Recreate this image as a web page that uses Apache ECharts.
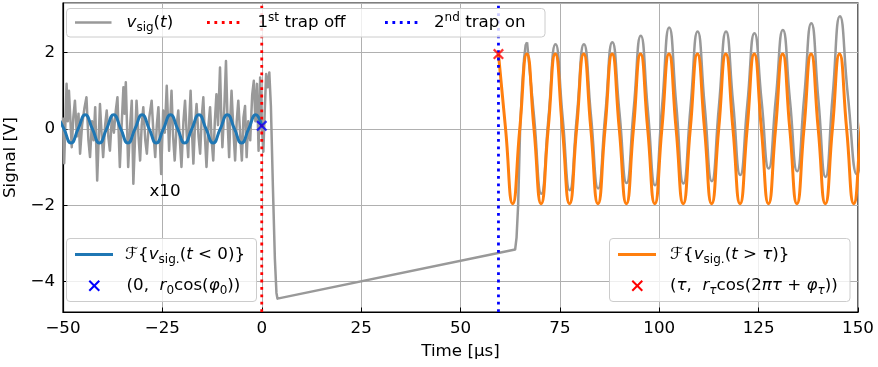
<!DOCTYPE html>
<html>
<head>
<meta charset="utf-8">
<script src="https://cdn.jsdelivr.net/npm/echarts@6/dist/echarts.min.js"></script>
<style>
  html, body { margin: 0; padding: 0; background: #ffffff; }
  #chart { width: 878px; height: 367px; }
</style>
</head>
<body>
<div id="chart"></div>
<script>
// ---- axes ----
const xTicks = [-50, -25, 0, 25, 50, 75, 100, 125, 150];
const yTicks = [-4, -2, 0, 2];
const yRange = [-4.8, 3.3];

// ---- measured signal v_sig(t): noisy part (shown x10), drop, ramp and rise ----
const rawT = [
  -50.0, -49.7, -49.1, -48.8, -48.5, -47.8, -47.4, -47.0, -46.5, -46.1,
  -45.7, -45.2, -44.6, -44.1, -43.6, -43.2, -42.7, -42.3, -41.9, -41.4,
  -41.0, -40.7, -40.3, -39.9, -39.4, -39.0, -38.6, -38.2, -37.7, -37.2,
  -36.7, -36.3, -35.7, -35.2, -34.8, -34.5, -34.2, -33.6, -33.1, -32.7,
  -32.3, -31.9, -31.5, -31.0, -30.6, -30.2, -29.8, -29.3, -28.9, -28.3,
  -27.7, -27.2, -26.8, -26.4, -26.0, -25.6, -25.3, -24.8, -24.4, -23.9,
  -23.3, -23.0, -22.7, -22.3, -21.9, -21.4, -21.0, -20.6, -20.2, -19.7,
  -19.3, -18.9, -18.5, -18.2, -17.9, -17.5, -17.2, -16.8, -16.4, -15.9,
  -15.5, -15.1, -14.7, -14.3, -13.9, -13.4, -13.0, -12.6, -12.2, -11.8,
  -11.4, -11.0, -10.5, -10.2, -9.9, -9.4, -9.0, -8.6, -8.2, -7.9,
  -7.6, -7.1, -6.7, -6.3, -5.9, -5.4, -5.0, -4.6, -4.2, -3.8,
  -3.4, -2.9, -2.4, -2.0, -1.6, -1.2, -0.8, -0.4, 0.0, 0.4,
  0.8, 1.1, 1.5, 1.9, 2.3, 2.8, 3.3, 3.7, 3.95,
  63.75, 64.1, 64.5, 65.0, 65.5, 66.0, 66.4, 66.75
];
const rawV = [
  0.30, -0.90, 1.18, 0.20, 1.00, -0.48, 0.30, 0.74, -0.20, 0.40,
  -0.65, 0.10, 0.55, 0.83, -0.30, -0.74, 0.20, -0.30, 0.57, -1.35,
  -0.20, 0.65, -0.10, -0.74, 0.10, 0.48, -0.20, -0.57, 0.30, -0.10,
  0.50, 0.83, -1.00, 0.20, 1.09, 0.40, 1.22, -1.00, 0.10, 0.74,
  -1.44, -0.30, 0.74, -0.20, -0.83, 0.10, 0.57, -0.30, -0.65, 0.30,
  0.74, -0.20, -0.74, 0.10, 0.57, -0.40, -1.18, 0.48, -0.10, 1.13,
  -0.57, 0.30, 1.00, -0.20, -0.83, 0.10, 0.48, -0.30, -1.00, 0.20,
  0.74, -0.10, -0.74, 0.30, 1.00, -0.20, -0.91, 0.10, 0.65, -0.20,
  -0.65, 0.30, 0.83, -0.20, -1.00, 0.10, 0.57, -0.30, -0.83, 0.20,
  0.91, 0.10, 1.61, 0.40, -0.48, 0.60, 1.78, 0.20, -0.74, 0.30,
  1.00, -0.10, -0.83, 0.20, 0.74, -0.20, -0.83, 0.30, 0.60, -0.74,
  0.20, -0.30, 0.90, 1.26, 0.20, 1.18, -0.57, 1.35, 0.10, -0.60,
  0.60, 1.44, 1.09, 1.48, 0.60, -1.50, -3.40, -4.30, -4.45,
  -3.16, -2.85, -2.00, 0.00, 1.10, 1.85, 2.20, 2.27
];

// ---- measured signal after the second trap is on (peaks, mid-levels, troughs) ----
const oscT = [
  66.75, 68.54, 70.33, 72.11, 73.90, 75.69, 77.48, 79.26, 81.05, 82.84,
  84.63, 86.41, 88.20, 89.99, 91.78, 93.56, 95.35, 97.14, 98.93, 100.71,
  102.50, 104.29, 106.08, 107.86, 109.65, 111.44, 113.23, 115.01, 116.80, 118.59,
  120.38, 122.16, 123.95, 125.74, 127.53, 129.31, 131.10, 132.89, 134.68, 136.46,
  138.25, 140.04, 141.83, 143.61, 145.45, 147.45, 149.70, 151.50, 153.30
];
const oscV = [
  2.27, 0.28, -1.70, 0.26, 2.22, 0.31, -1.61, 0.31, 2.22, 0.33,
  -1.56, 0.36, 2.27, 0.43, -1.42, 0.51, 2.44, 0.48, -1.48, 0.59,
  2.66, 0.62, -1.43, 0.56, 2.55, 0.59, -1.37, 0.59, 2.55, 0.67,
  -1.21, 0.65, 2.51, 0.74, -1.04, 0.78, 2.59, 0.74, -1.11, 0.83,
  2.77, 0.76, -1.26, 0.85, 2.95, 0.88, -1.19, 0.85, 2.90
];

// ---- fit F{v_sig.(t<0)} ----
const fitPreT = [
  -51.55, -49.76, -47.98, -46.19, -44.40, -42.61, -40.83, -39.04, -37.25, -35.46,
  -33.68, -31.89, -30.10, -28.31, -26.53, -24.74, -22.95, -21.16, -19.38, -17.59,
  -15.80, -14.01, -12.23, -10.44, -8.65, -6.86, -5.08, -3.29, -1.50, 0.00
];
const fitPreV = [
  0.37, 0, -0.37, 0, 0.37, 0, -0.37, 0, 0.37, 0,
  -0.37, 0, 0.37, 0, -0.37, 0, 0.37, 0, -0.37, 0,
  0.37, 0, -0.37, 0, 0.37, 0, -0.37, 0, 0.37, 0.08
];

// ---- fit F{v_sig.(t>tau)} ----
const fitPostT = [
  59.55, 61.34, 63.13, 64.91, 66.70, 68.49, 70.28, 72.06, 73.85, 75.64,
  77.43, 79.21, 81.00, 82.79, 84.58, 86.36, 88.15, 89.94, 91.73, 93.51,
  95.30, 97.09, 98.88, 100.66, 102.45, 104.24, 106.03, 107.81, 109.60, 111.39,
  113.18, 114.96, 116.75, 118.54, 120.33, 122.11, 123.90, 125.69, 127.48, 129.26,
  131.05, 132.84, 134.63, 136.41, 138.20, 139.99, 141.78, 143.56, 145.35, 147.14,
  148.93, 150.71, 152.50
];
const fitPostV = [
  1.96, 0, -1.96, 0, 1.96, 0, -1.96, 0, 1.96, 0,
  -1.96, 0, 1.96, 0, -1.96, 0, 1.96, 0, -1.96, 0,
  1.96, 0, -1.96, 0, 1.96, 0, -1.96, 0, 1.96, 0,
  -1.96, 0, 1.96, 0, -1.96, 0, 1.96, 0, -1.96, 0,
  1.96, 0, -1.96, 0, 1.96, 0, -1.96, 0, 1.96, 0,
  -1.96, 0, 1.96
];

// ---- trap events and phase points ----
const trapOffT = 0;
const trapOnT = 59.55;
const pointPre = [0, 0.08];
const pointPost = [59.55, 1.96];

const zip = (a, b) => a.map((v, i) => [v, b[i]]);
const minus = v => String(v).replace('-', '\u2212');

const FONT = 'DejaVu Sans';
const FS = 16.7;
const GRAY = '#999999';
const BLUE = '#1f77b4';
const ORANGE = '#ff7f0e';
const W_RAW = 2.5;
const W_FIT = 3.0;

// X-shaped marker outline
const XMARK = 'path://M0,1.4L1.4,0L5,3.6L8.6,0L10,1.4L6.4,5L10,8.6L8.6,10L5,6.4L1.4,10L0,8.6L3.6,5Z';

const chart = echarts.init(document.getElementById('chart'), null, { renderer: 'canvas' });

const rich = {
  i:   { fontFamily: FONT, fontSize: FS, fontStyle: 'italic', lineHeight: 22 },
  c:   { fontFamily: FONT, fontSize: FS, lineHeight: 22 },
  sub: { fontFamily: FONT, fontSize: 12, lineHeight: 12, verticalAlign: 'bottom' },
  subi:{ fontFamily: FONT, fontSize: 12, lineHeight: 12, verticalAlign: 'bottom', fontStyle: 'italic' },
  sup: { fontFamily: FONT, fontSize: 12, lineHeight: 12, verticalAlign: 'top' }
};

function txt(x, y, text) {
  return {
    type: 'text', x: x, y: y, z: 110,
    style: {
      text: text, fill: '#000', fontFamily: FONT, fontSize: FS, lineHeight: 22,
      align: 'left', verticalAlign: 'middle', rich: rich
    }
  };
}
function box(x, y, w, h) {
  return {
    type: 'rect', z: 100,
    shape: { x: x, y: y, width: w, height: h, r: 3.5 },
    style: { fill: 'rgba(255,255,255,0.8)', stroke: '#cccccc', lineWidth: 1 }
  };
}
function seg(x1, x2, y, color, width, dash) {
  return {
    type: 'line', z: 105,
    shape: { x1: x1, y1: y, x2: x2, y2: y },
    style: { stroke: color, lineWidth: width, lineDash: dash || null, lineCap: 'butt' }
  };
}
function cross(cx, cy, color) {
  return {
    type: 'group', z: 105,
    children: [
      { type: 'line', z: 105, shape: { x1: cx - 5, y1: cy - 5, x2: cx + 5, y2: cy + 5 }, style: { stroke: color, lineWidth: 2 } },
      { type: 'line', z: 105, shape: { x1: cx - 5, y1: cy + 5, x2: cx + 5, y2: cy - 5 }, style: { stroke: color, lineWidth: 2 } }
    ]
  };
}

const option = {
  animation: false,
  backgroundColor: '#ffffff',
  grid: {
    left: 63, right: 20, top: 3, bottom: 55,
    outerBoundsMode: 'none', containLabel: false,
    show: true, borderColor: '#000000', borderWidth: 1.2, backgroundColor: 'transparent'
  },
  xAxis: {
    type: 'value',
    min: xTicks[0], max: xTicks[xTicks.length - 1], interval: xTicks[1] - xTicks[0],
    name: 'Time [\u03bcs]', nameLocation: 'middle', nameGap: 31,
    nameTextStyle: { fontFamily: FONT, fontSize: FS, color: '#000' },
    axisLine: { show: true, onZero: false, lineStyle: { color: '#000', width: 1.2 } },
    axisTick: { show: true, inside: true, length: 4.5, lineStyle: { color: '#000', width: 1 } },
    axisLabel: { fontFamily: FONT, fontSize: FS, color: '#000', margin: 8, formatter: v => minus(v) },
    splitLine: { show: true, lineStyle: { color: '#b0b0b0', width: 1 } }
  },
  yAxis: {
    type: 'value',
    min: yRange[0], max: yRange[1],
    name: 'Signal [V]', nameLocation: 'middle', nameGap: 38,
    nameTextStyle: { fontFamily: FONT, fontSize: FS, color: '#000' },
    axisLine: { show: true, onZero: false, lineStyle: { color: '#000', width: 1.2 } },
    axisTick: { show: true, inside: true, length: 4.5, lineStyle: { color: '#000', width: 1 } },
    axisLabel: {
      fontFamily: FONT, fontSize: FS, color: '#000', margin: 8,
      showMinLabel: false, showMaxLabel: false,
      formatter: v => (yTicks.indexOf(v) >= 0 ? minus(v) : '')
    },
    splitLine: { show: true, lineStyle: { color: '#b0b0b0', width: 1 } }
  },
  series: [
    {
      name: 'raw', type: 'line', data: zip(rawT, rawV), z: 2,
      showSymbol: false, symbol: 'none', smooth: false, silent: true,
      lineStyle: { color: GRAY, width: W_RAW, join: 'round' }
    },
    {
      name: 'osc', type: 'line', data: zip(oscT, oscV), z: 2,
      showSymbol: false, symbol: 'none', smooth: 0.55, silent: true,
      lineStyle: { color: GRAY, width: W_RAW }
    },
    {
      name: 'fitPre', type: 'line', data: zip(fitPreT, fitPreV), z: 3,
      showSymbol: false, symbol: 'none', smooth: 0.55, silent: true,
      lineStyle: { color: BLUE, width: W_FIT }
    },
    {
      name: 'fitPost', type: 'line', data: zip(fitPostT, fitPostV), z: 3,
      showSymbol: false, symbol: 'none', smooth: 0.55, silent: true,
      lineStyle: { color: ORANGE, width: W_FIT }
    },
    {
      name: 'trapOff', type: 'line', data: [[trapOffT, yRange[0]], [trapOffT, yRange[1]]], z: 4,
      showSymbol: false, symbol: 'none', silent: true,
      lineStyle: { color: '#ff0000', width: 2.8, type: [2.8, 4.6], cap: 'butt' }
    },
    {
      name: 'trapOn', type: 'line', data: [[trapOnT, yRange[0]], [trapOnT, yRange[1]]], z: 4,
      showSymbol: false, symbol: 'none', silent: true,
      lineStyle: { color: '#0000ff', width: 2.8, type: [2.8, 4.6], cap: 'butt' }
    },
    {
      name: 'pointPre', type: 'scatter', data: [pointPre], z: 5, silent: true,
      symbol: XMARK, symbolSize: 11, itemStyle: { color: '#0000ff' }
    },
    {
      name: 'pointPost', type: 'scatter', data: [pointPost], z: 5, silent: true,
      symbol: XMARK, symbolSize: 11, itemStyle: { color: '#ff0000' }
    }
  ],
  graphic: [
    // annotation for the scaled pre-trigger signal
    { type: 'text', x: 165, y: 192, z: 50,
      style: { text: 'x10', fontFamily: FONT, fontSize: FS, fill: '#000', align: 'center', verticalAlign: 'middle' } },

    // upper legend
    box(66.5, 8.5, 478.5, 28.5),
    seg(75, 111.5, 22.5, GRAY, W_RAW),
    txt(126.5, 22.5, '{i|v}{sub|sig}({i|t})'),
    seg(207, 242, 22.5, '#ff0000', 2.8, [2.8, 4.6]),
    txt(257.5, 22.5, '1{sup|st} trap off'),
    seg(385, 418, 22.5, '#0000ff', 2.8, [2.8, 4.6]),
    txt(434, 22.5, '2{sup|nd} trap on'),

    // lower-left legend
    box(66.5, 238.5, 190, 63),
    seg(75, 113, 254.5, BLUE, W_FIT),
    txt(125, 254.5, '{c|\u2131}{c|{}{i|v}{sub|sig.}({i|t} < 0)}'),
    cross(94.3, 285.7, '#0000ff'),
    txt(126.5, 285.7, '(0,  {i|r}{sub|0}cos({i|\u03c6}{sub|0}))'),

    // lower-right legend
    box(609.5, 238.5, 240.5, 63),
    seg(618, 656, 254.5, ORANGE, W_FIT),
    txt(670, 254.5, '{c|\u2131}{c|{}{i|v}{sub|sig.}({i|t} > {i|\u03c4})}'),
    cross(637.3, 285.7, '#ff0000'),
    txt(670, 285.7, '({i|\u03c4},  {i|r}{subi|\u03c4}cos(2{i|\u03c0\u03c4} + {i|\u03c6}{subi|\u03c4}))')
  ]
};

chart.setOption(option);
</script>
</body>
</html>
